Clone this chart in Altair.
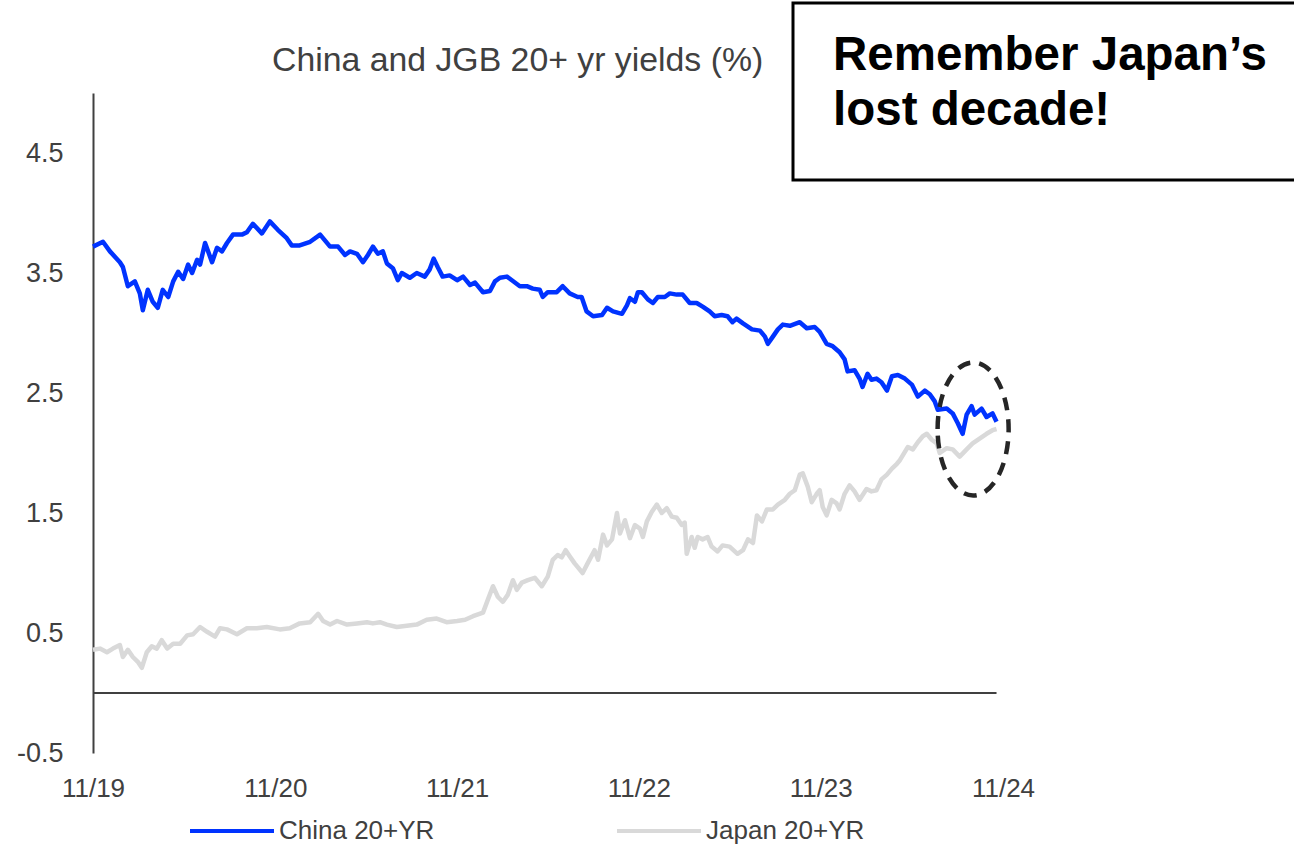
import altair as alt
import pandas as pd

# ---- data -------------------------------------------------------------
CHINA_DATES = [
    "2019-11-01", "2019-11-21", "2019-12-05", "2019-12-25", "2019-12-31", "2020-01-10", "2020-01-24", "2020-02-03", "2020-02-09", "2020-02-19",
    "2020-02-29", "2020-03-10", "2020-03-20", "2020-03-31", "2020-04-10", "2020-04-20", "2020-04-30", "2020-05-10", "2020-05-18", "2020-05-28",
    "2020-06-03", "2020-06-13", "2020-06-27", "2020-07-07", "2020-07-17", "2020-07-27", "2020-08-08", "2020-08-26", "2020-09-05", "2020-09-17",
    "2020-10-05", "2020-10-21", "2020-11-06", "2020-11-24", "2020-12-04", "2020-12-20", "2021-01-10", "2021-01-30", "2021-02-19", "2021-03-07",
    "2021-03-21", "2021-03-31", "2021-04-14", "2021-04-26", "2021-05-06", "2021-05-16", "2021-05-26", "2021-06-05", "2021-06-13", "2021-06-25",
    "2021-07-05", "2021-07-13", "2021-07-29", "2021-08-12", "2021-08-28", "2021-09-07", "2021-09-15", "2021-09-23", "2021-10-03", "2021-10-17",
    "2021-11-01", "2021-11-13", "2021-11-27", "2021-12-07", "2021-12-23", "2022-01-06", "2022-01-16", "2022-01-26", "2022-02-09", "2022-02-19",
    "2022-03-07", "2022-03-21", "2022-04-02", "2022-04-16", "2022-04-22", "2022-05-02", "2022-05-20", "2022-06-01", "2022-06-15", "2022-07-01",
    "2022-07-09", "2022-07-19", "2022-08-01", "2022-08-19", "2022-08-29", "2022-09-10", "2022-09-28", "2022-10-08", "2022-10-14", "2022-10-24",
    "2022-10-30", "2022-11-07", "2022-11-19", "2022-11-29", "2022-12-09", "2022-12-23", "2023-01-02", "2023-01-16", "2023-01-28", "2023-02-11",
    "2023-02-25", "2023-03-09", "2023-03-23", "2023-04-02", "2023-04-16", "2023-04-28", "2023-05-08", "2023-05-16", "2023-05-29", "2023-06-16",
    "2023-07-02", "2023-07-12", "2023-07-18", "2023-07-28", "2023-08-07", "2023-08-17", "2023-08-31", "2023-09-20", "2023-10-04", "2023-10-20",
    "2023-10-30", "2023-11-13", "2023-11-25", "2023-12-09", "2023-12-19", "2023-12-25", "2024-01-08", "2024-01-18", "2024-01-24", "2024-02-03",
    "2024-02-11", "2024-02-21", "2024-03-02", "2024-03-13", "2024-03-23", "2024-04-04", "2024-04-18", "2024-05-02", "2024-05-14", "2024-05-28",
    "2024-06-07", "2024-06-17", "2024-06-23", "2024-07-11", "2024-07-23", "2024-08-02", "2024-08-12", "2024-08-20", "2024-08-30", "2024-09-05",
    "2024-09-19", "2024-09-29", "2024-10-11", "2024-10-19",
]
CHINA_YIELD = [
    3.72, 3.76, 3.68, 3.59, 3.55, 3.39, 3.43, 3.33, 3.19, 3.36,
    3.26, 3.21, 3.36, 3.30, 3.43, 3.51, 3.45, 3.57, 3.50, 3.61,
    3.57, 3.75, 3.59, 3.71, 3.68, 3.75, 3.82, 3.82, 3.84, 3.91,
    3.83, 3.93, 3.86, 3.79, 3.73, 3.73, 3.76, 3.82, 3.72, 3.72,
    3.65, 3.68, 3.66, 3.59, 3.65, 3.72, 3.66, 3.68, 3.58, 3.54,
    3.44, 3.50, 3.46, 3.50, 3.47, 3.53, 3.62, 3.55, 3.47, 3.48,
    3.44, 3.47, 3.40, 3.42, 3.34, 3.35, 3.43, 3.46, 3.47, 3.44,
    3.39, 3.39, 3.37, 3.36, 3.30, 3.34, 3.34, 3.39, 3.33, 3.30,
    3.30, 3.18, 3.14, 3.15, 3.21, 3.18, 3.16, 3.23, 3.29, 3.26,
    3.34, 3.34, 3.28, 3.25, 3.30, 3.30, 3.33, 3.32, 3.32, 3.25,
    3.25, 3.22, 3.18, 3.14, 3.15, 3.14, 3.09, 3.12, 3.08, 3.03,
    3.02, 2.97, 2.91, 2.97, 3.03, 3.07, 3.06, 3.09, 3.04, 3.05,
    3.01, 2.91, 2.89, 2.84, 2.78, 2.68, 2.69, 2.62, 2.55, 2.66,
    2.61, 2.62, 2.59, 2.52, 2.64, 2.65, 2.62, 2.57, 2.47, 2.52,
    2.49, 2.43, 2.36, 2.37, 2.33, 2.25, 2.16, 2.32, 2.39, 2.32,
    2.37, 2.30, 2.33, 2.26,
]

JAPAN_DATES = [
    "2019-11-01", "2019-11-15", "2019-11-29", "2019-12-11", "2019-12-25", "2019-12-31", "2020-01-10", "2020-01-20", "2020-01-30", "2020-02-07",
    "2020-02-17", "2020-02-27", "2020-03-08", "2020-03-18", "2020-03-29", "2020-04-10", "2020-04-24", "2020-05-08", "2020-05-20", "2020-06-03",
    "2020-06-17", "2020-07-03", "2020-07-13", "2020-07-27", "2020-08-16", "2020-09-05", "2020-09-25", "2020-10-15", "2020-11-10", "2020-11-30",
    "2020-12-20", "2021-01-10", "2021-01-26", "2021-02-05", "2021-02-19", "2021-03-05", "2021-03-25", "2021-04-14", "2021-05-04", "2021-05-16",
    "2021-05-30", "2021-06-13", "2021-07-03", "2021-07-23", "2021-08-12", "2021-09-01", "2021-09-21", "2021-10-11", "2021-11-01", "2021-11-17",
    "2021-12-03", "2021-12-23", "2022-01-02", "2022-01-12", "2022-01-22", "2022-02-01", "2022-02-11", "2022-02-21", "2022-03-01", "2022-03-11",
    "2022-03-23", "2022-04-06", "2022-04-20", "2022-05-02", "2022-05-12", "2022-05-22", "2022-05-30", "2022-06-07", "2022-06-15", "2022-06-25",
    "2022-07-11", "2022-07-21", "2022-08-04", "2022-08-11", "2022-08-21", "2022-08-29", "2022-09-08", "2022-09-18", "2022-09-24", "2022-10-04",
    "2022-10-14", "2022-10-24", "2022-11-03", "2022-11-09", "2022-11-17", "2022-11-27", "2022-12-07", "2022-12-17", "2022-12-27", "2023-01-06",
    "2023-01-16", "2023-01-26", "2023-02-01", "2023-02-05", "2023-02-15", "2023-02-21", "2023-02-27", "2023-03-09", "2023-03-19", "2023-03-27",
    "2023-04-08", "2023-04-18", "2023-05-02", "2023-05-18", "2023-05-29", "2023-06-08", "2023-06-18", "2023-06-26", "2023-07-06", "2023-07-16",
    "2023-07-28", "2023-08-07", "2023-08-21", "2023-08-31", "2023-09-10", "2023-09-20", "2023-09-26", "2023-10-06", "2023-10-14", "2023-10-24",
    "2023-10-30", "2023-11-05", "2023-11-13", "2023-11-23", "2023-12-03", "2023-12-09", "2023-12-19", "2023-12-29", "2024-01-08", "2024-01-18",
    "2024-02-01", "2024-02-11", "2024-02-21", "2024-03-02", "2024-03-13", "2024-03-23", "2024-04-02", "2024-04-08", "2024-04-18", "2024-04-24",
    "2024-05-04", "2024-05-14", "2024-05-24", "2024-06-01", "2024-06-11", "2024-06-21", "2024-06-27", "2024-07-11", "2024-07-23", "2024-08-06",
    "2024-08-20", "2024-09-01", "2024-09-15", "2024-09-29", "2024-10-11", "2024-10-19",
]
JAPAN_YIELD = [
    0.36, 0.37, 0.34, 0.37, 0.40, 0.30, 0.36, 0.30, 0.26, 0.21,
    0.34, 0.39, 0.37, 0.44, 0.37, 0.41, 0.41, 0.48, 0.49, 0.55,
    0.51, 0.47, 0.54, 0.53, 0.49, 0.54, 0.54, 0.55, 0.53, 0.54,
    0.58, 0.59, 0.66, 0.60, 0.57, 0.60, 0.57, 0.58, 0.59, 0.58,
    0.59, 0.57, 0.55, 0.56, 0.57, 0.61, 0.62, 0.59, 0.60, 0.61,
    0.64, 0.67, 0.78, 0.89, 0.80, 0.76, 0.82, 0.94, 0.86, 0.92,
    0.94, 0.96, 0.89, 0.97, 1.11, 1.15, 1.13, 1.19, 1.14, 1.08,
    1.00, 1.08, 1.19, 1.11, 1.32, 1.23, 1.28, 1.50, 1.33, 1.44,
    1.29, 1.40, 1.37, 1.30, 1.43, 1.51, 1.57, 1.50, 1.54, 1.47,
    1.46, 1.40, 1.42, 1.16, 1.30, 1.21, 1.30, 1.28, 1.30, 1.22,
    1.18, 1.23, 1.22, 1.16, 1.19, 1.28, 1.25, 1.48, 1.43, 1.53,
    1.53, 1.57, 1.61, 1.66, 1.69, 1.82, 1.83, 1.72, 1.59, 1.66,
    1.69, 1.55, 1.48, 1.61, 1.58, 1.53, 1.66, 1.73, 1.68, 1.61,
    1.70, 1.68, 1.69, 1.78, 1.82, 1.87, 1.91, 1.94, 2.01, 2.05,
    2.03, 2.09, 2.14, 2.16, 2.11, 2.08, 2.00, 2.04, 2.03, 1.97,
    2.03, 2.08, 2.12, 2.16, 2.19, 2.20,
]

SERIES = ["China 20+YR", "Japan 20+YR"]
SERIES_COLORS = ["#0033ff", "#d9d9d9"]

X_TICKS = ["2019-11-01", "2020-11-01", "2021-11-01", "2022-11-01", "2023-11-01", "2024-11-01"]
Y_TICKS = [-0.5, 0.5, 1.5, 2.5, 3.5, 4.5]
Y_DOMAIN = [-0.5, 5.0]

# highlighted recent window (centre of the dashed ellipse)
HIGHLIGHT_DATE = ["2024-09-02"]
HIGHLIGHT_YIELD = [2.20]

TITLE = "China and JGB 20+ yr yields (%)"
CALLOUT = ["Remember Japan\u2019s", "lost decade!"]

FONT = "Liberation Sans"
TEXT_GREY = "#404040"


def dt(s):
    return alt.DateTime(year=int(s[:4]), month=int(s[5:7]), date=int(s[8:10]), utc=True)


china = pd.DataFrame({"date": CHINA_DATES, "yield": CHINA_YIELD, "series": SERIES[0]})
japan = pd.DataFrame({"date": JAPAN_DATES, "yield": JAPAN_YIELD, "series": SERIES[1]})
zero_df = pd.DataFrame({"start": [CHINA_DATES[0]], "end": [CHINA_DATES[-1]], "y": [0.0]})
hl_df = pd.DataFrame({"date": HIGHLIGHT_DATE, "yield": HIGHLIGHT_YIELD})
one = pd.DataFrame({"k": [0]})

x_scale = alt.Scale(type="utc", domain=[dt(X_TICKS[0]), dt(X_TICKS[-1])])
y_scale = alt.Scale(domain=Y_DOMAIN, nice=False, zero=False)
color_scale = alt.Scale(domain=SERIES, range=SERIES_COLORS)

x_axis = alt.Axis(
    values=[dt(s) for s in X_TICKS], format="%m/%y", title=None, grid=False,
    ticks=False, domain=False, labelFontSize=26, labelColor=TEXT_GREY,
    labelFont=FONT, labelPadding=22, labelFlush=False, labelOverlap=False,
)
y_axis = alt.Axis(
    values=Y_TICKS, title=None, grid=False, ticks=False,
    domainColor=TEXT_GREY, domainWidth=2, labelFontSize=27, labelColor=TEXT_GREY,
    labelFont=FONT, labelPadding=30,
    labelExpr="replace(format(datum.value, '.1f'), '\u2212', '-')",
)

legend = alt.Legend(
    orient="none", legendX=95, legendY=694, direction="horizontal", title=None,
    symbolType="stroke", symbolSize=7056, symbolStrokeWidth=4,
    labelFontSize=26, labelFont=FONT, labelColor=TEXT_GREY, labelOffset=3,
    columnPadding=174, padding=0,
)

zero_rule = alt.Chart(zero_df).mark_rule(color=TEXT_GREY, strokeWidth=2).encode(
    x=alt.X("start:T", scale=x_scale, axis=x_axis),
    x2="end:T",
    y=alt.Y("y:Q", scale=y_scale, axis=y_axis),
)


def series_line(df):
    return alt.Chart(df).mark_line(strokeWidth=4.5, strokeJoin="round").encode(
        x=alt.X("date:T", scale=x_scale, axis=x_axis),
        y=alt.Y("yield:Q", scale=y_scale, axis=y_axis),
        color=alt.Color("series:N", scale=color_scale, legend=legend),
    )


ellipse = alt.Chart(hl_df).mark_point(
    shape="M -0.534 0 A 0.534 1 0 1 1 0.534 0 A 0.534 1 0 1 1 -0.534 0 Z",
    size=17689, filled=False, stroke="#262626", strokeWidth=4.5,
    strokeDash=[13, 9], opacity=1,
).encode(
    x=alt.X("date:T", scale=x_scale, axis=x_axis),
    y=alt.Y("yield:Q", scale=y_scale, axis=y_axis),
)

title_text = alt.Chart(one).mark_text(
    align="left", baseline="alphabetic", font=FONT, fontSize=33.8, color=TEXT_GREY,
).encode(x=alt.value(179), y=alt.value(-22), text=alt.value(TITLE))

callout_box = alt.Chart(one).mark_rect(fill="white", stroke="black", strokeWidth=3).encode(
    x=alt.value(700), x2=alt.value(1215), y=alt.value(-90), y2=alt.value(87),
)
callout_text = alt.Chart(one).mark_text(
    align="left", baseline="alphabetic", font=FONT, fontSize=47.5,
    fontWeight="bold", lineHeight=55, color="black",
).encode(
    x=alt.value(740), y=alt.value(-23), text=alt.value(CALLOUT),
)

chart = alt.layer(
    zero_rule, series_line(japan), series_line(china), ellipse,
    title_text, callout_box, callout_text,
).properties(
    width=910, height=660,
    autosize=alt.AutoSizeParams(type="none"),
    padding={"left": 93, "top": 93, "right": 291, "bottom": 92},
).configure(
    background="white", view=alt.ViewConfig(stroke=None, strokeWidth=0),
)

chart.save("out.html", embed_options={"renderer": "svg", "actions": False})
